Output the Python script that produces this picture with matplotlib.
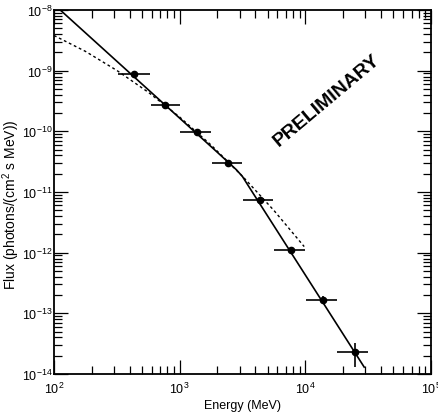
import numpy as np
import matplotlib
matplotlib.use("Agg")
import matplotlib.pyplot as plt
from matplotlib.ticker import LogLocator, NullFormatter

plt.rcParams['font.family'] = ['Liberation Sans', 'DejaVu Sans']
plt.rcParams['mathtext.fontset'] = 'custom'
plt.rcParams['mathtext.rm'] = 'Liberation Sans'

# measured spectral points
energy = [432, 770, 1380, 2440, 4350, 7680, 13800, 24700]
e_lo = [323, 592, 1005, 1800, 3210, 5620, 10050, 17900]
e_hi = [581, 1010, 1775, 3150, 5560, 9930, 17750, 31300]
flux = [8.8e-10, 2.72e-10, 9.9e-11, 2.98e-11, 7.4e-12, 1.12e-12, 1.63e-13, 2.29e-14]
f_lo = [8.5e-10, 2.63e-10, 9.5e-11, 2.86e-11, 7.0e-12, 1.04e-12, 1.40e-13, 1.28e-14]
f_hi = [9.1e-10, 2.81e-10, 1.03e-10, 3.10e-11, 7.8e-12, 1.20e-12, 1.90e-13, 3.27e-14]

# fitted models
solid_e = [100, 2000, 2510, 2820, 3160, 3550, 29400]
solid_f = [1.24e-8, 4.49e-11, 2.92e-11, 2.34e-11, 1.80e-11, 1.23e-11, 1.30e-14]
dash_e = [100, 178, 316, 562, 1000, 1778, 3162, 5623, 9795]
dash_f = [3.8e-9, 2.08e-9, 1.01e-9, 4.42e-10, 1.72e-10, 5.95e-11, 1.82e-11, 4.97e-12, 1.26e-12]

fig = plt.figure(figsize=(4.38, 4.14), dpi=100)
ax = fig.add_axes([0.1233, 0.0942, 0.8607, 0.8792])

ax.plot(solid_e, solid_f, color='black', lw=1.2)
ax.plot(dash_e, dash_f, color='black', lw=1.0, ls=(0, (2, 2)))

energy = np.array(energy)
flux = np.array(flux)
xerr = [energy - np.array(e_lo), np.array(e_hi) - energy]
yerr = [flux - np.array(f_lo), np.array(f_hi) - flux]
ax.errorbar(energy, flux, xerr=xerr, yerr=yerr, fmt='o', color='black',
            ms=4.5, elinewidth=1.2, capsize=0)

ax.set_xscale('log')
ax.set_yscale('log')
ax.set_xlim(1e2, 1e5)
ax.set_ylim(1e-14, 1e-8)

for axis in (ax.xaxis, ax.yaxis):
    axis.set_major_locator(LogLocator(base=10, numticks=20))
    axis.set_minor_locator(LogLocator(base=10, subs=np.arange(2, 10), numticks=20))
    axis.set_minor_formatter(NullFormatter())

ax.tick_params(which='both', direction='in', top=True, right=True,
               labelsize=9, width=0.9)
ax.tick_params(which='major', length=10)
ax.tick_params(which='minor', length=6)
ax.tick_params(axis='x', which='major', pad=5)
ax.tick_params(axis='y', which='major', pad=1)
for s in ax.spines.values():
    s.set_linewidth(1.3)

ax.set_xlabel('Energy (MeV)', fontsize=9)
ax.xaxis.set_label_coords(0.5, -0.068)
ax.set_ylabel('Flux (photons/(cm$^2$ s MeV))', fontsize=10)
ax.yaxis.set_label_coords(-0.086, 0.468)

ax.text(0.724, 0.753, 'PRELIMINARY', transform=ax.transAxes, fontsize=14,
        fontweight='bold', rotation=40, ha='center', va='center')

plt.savefig('out.png', dpi=100)
